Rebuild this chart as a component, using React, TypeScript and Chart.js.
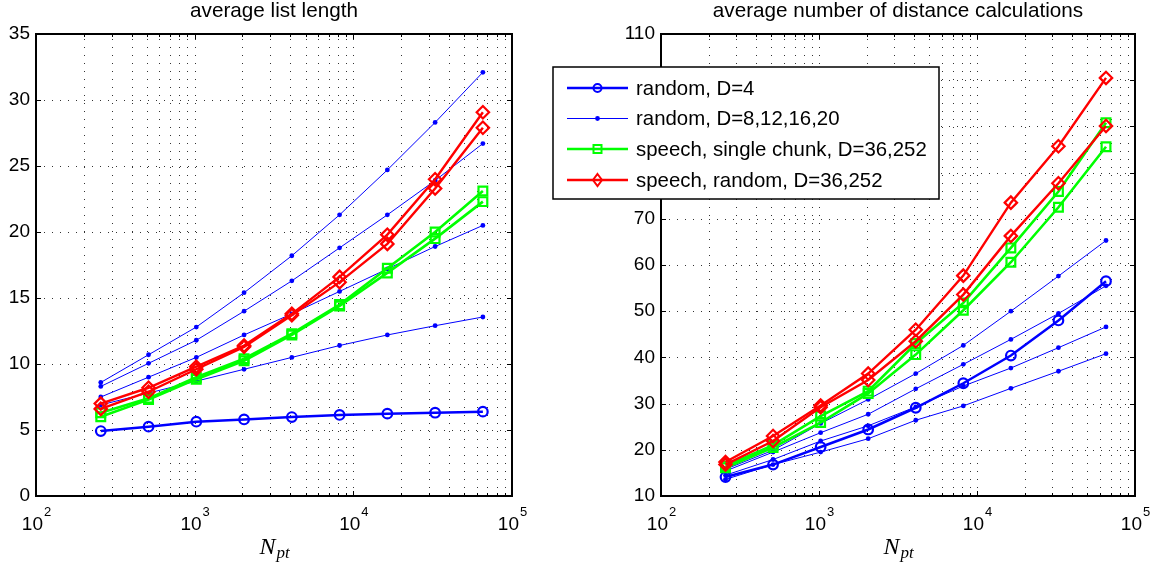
import React, { useEffect, useRef } from 'react';
import { Chart, registerables } from 'chart.js';

Chart.register(...registerables);

// ---------------- data ----------------
const N_PT = [256, 512, 1024, 2048, 4096, 8192, 16384, 32768, 65536];

// left panel: average list length
const LIST_RANDOM_D4 = [4.92, 5.25, 5.63, 5.8, 5.98, 6.14, 6.24, 6.31, 6.39];
const LIST_RANDOM_A = [8.6, 10.7, 12.8, 15.4, 18.2, 21.3, 24.7, 28.3, 32.1];
const LIST_RANDOM_B = [8.3, 10.05, 11.8, 14.0, 16.3, 18.8, 21.3, 23.9, 26.7];
const LIST_RANDOM_C = [7.5, 9.0, 10.5, 12.2, 13.8, 15.5, 17.2, 18.9, 20.5];
const LIST_RANDOM_E = [6.9, 7.8, 8.7, 9.6, 10.5, 11.4, 12.2, 12.9, 13.56];
const LIST_SPEECH_CHUNK_1 = [6.3, 7.4, 9.0, 10.4, 12.3, 14.5, 17.25, 20.0, 23.1];
const LIST_SPEECH_CHUNK_2 = [6.0, 7.3, 8.85, 10.25, 12.2, 14.4, 16.9, 19.5, 22.3];
const LIST_SPEECH_RANDOM_1 = [7.0, 8.2, 9.8, 11.4, 13.8, 16.6, 19.8, 24.0, 29.07];
const LIST_SPEECH_RANDOM_2 = [6.6, 7.9, 9.6, 11.3, 13.7, 16.2, 19.1, 23.3, 27.9];

// right panel: average number of distance calculations
const DIST_RANDOM_D4 = [14.1, 16.8, 20.6, 24.4, 29.1, 34.4, 40.4, 48.0, 56.5];
const DIST_RANDOM_A = [15.8, 19.9, 25.7, 30.9, 36.5, 42.6, 50.0, 57.6, 65.3];
const DIST_RANDOM_B = [15.4, 19.5, 23.7, 27.7, 33.2, 38.5, 43.9, 49.5, 55.5];
const DIST_RANDOM_C = [14.5, 17.9, 21.9, 25.2, 29.3, 33.8, 37.7, 42.1, 46.6];
const DIST_RANDOM_E = [13.6, 16.8, 19.5, 22.4, 26.4, 29.5, 33.3, 37.0, 40.8];
const DIST_SPEECH_CHUNK_1 = [16.5, 21.0, 27.3, 32.7, 43.0, 51.8, 63.7, 75.9, 90.8];
const DIST_SPEECH_CHUNK_2 = [16.1, 20.5, 25.9, 32.2, 40.6, 50.2, 60.6, 72.5, 85.6];
const DIST_SPEECH_RANDOM_1 = [17.35, 23.0, 29.6, 36.5, 46.0, 57.7, 73.5, 85.7, 100.5];
const DIST_SPEECH_RANDOM_2 = [16.8, 21.9, 29.2, 35.1, 43.5, 53.6, 66.3, 77.7, 90.1];

// axes
const X_MIN = 100;
const X_MAX = 100000;
const X_TICK_EXPONENTS = [2, 3, 4, 5];
const LIST_Y_TICKS = [0, 5, 10, 15, 20, 25, 30, 35];
const DIST_Y_TICKS = [10, 20, 30, 40, 50, 60, 70, 80, 90, 100, 110];

const TITLE_LEFT = 'average list length';
const TITLE_RIGHT = 'average number of distance calculations';
const LEGEND_LABELS = [
  'random, D=4',
  'random, D=8,12,16,20',
  'speech, single chunk, D=36,252',
  'speech, random, D=36,252',
];

// ---------------- styles ----------------
const BLUE = '#0000ff';
const GREEN = '#00ff00';
const RED = '#ff0000';
const SANS = "'Liberation Sans', Arial, Helvetica, sans-serif";
const SERIF = "'Liberation Serif', 'Times New Roman', serif";
const W = 1161;
const H = 565;

const pts = (ys: number[]) => N_PT.map((x, i) => ({ x, y: ys[i] }));

const base = { tension: 0, fill: false, pointHoverRadius: 0 };
const thickBlue = (ys: number[]) => ({
  ...base, label: LEGEND_LABELS[0], data: pts(ys), borderColor: BLUE, borderWidth: 2.5,
  pointStyle: 'circle', pointRadius: 4.8, pointBorderWidth: 2.2, pointBorderColor: BLUE,
  pointBackgroundColor: 'rgba(0,0,0,0)', order: 3,
});
const thinBlue = (ys: number[]) => ({
  ...base, label: LEGEND_LABELS[1], data: pts(ys), borderColor: BLUE, borderWidth: 1,
  pointStyle: 'circle', pointRadius: 2.4, pointBorderWidth: 0, pointBorderColor: BLUE,
  pointBackgroundColor: BLUE, order: 4,
});
const green = (ys: number[]) => ({
  ...base, label: LEGEND_LABELS[2], data: pts(ys), borderColor: GREEN, borderWidth: 2.6,
  pointStyle: 'rect', pointRadius: 6.2, pointBorderWidth: 2.2, pointBorderColor: GREEN,
  pointBackgroundColor: 'rgba(0,0,0,0)', order: 2,
});
const red = (ys: number[]) => ({
  ...base, label: LEGEND_LABELS[3], data: pts(ys), borderColor: RED, borderWidth: 2.4,
  pointStyle: 'rectRot', pointRadius: 6.2, pointBorderWidth: 2.2, pointBorderColor: RED,
  pointBackgroundColor: 'rgba(0,0,0,0)', order: 1,
});

// grid positions on a log axis: m * 10^e between X_MIN and X_MAX
function logGridValues(): { v: number; major: boolean }[] {
  const out: { v: number; major: boolean }[] = [];
  for (let e = 2; e < 5; e++) {
    for (let m = 1; m <= 9; m++) {
      const v = m * Math.pow(10, e);
      if (v > X_MIN && v < X_MAX) out.push({ v, major: m === 1 });
    }
  }
  return out;
}

function drawMarker(ctx: CanvasRenderingContext2D, kind: number, x: number, y: number) {
  ctx.save();
  ctx.lineWidth = 2;
  if (kind === 0) {
    ctx.strokeStyle = BLUE;
    ctx.beginPath();
    ctx.arc(x, y, 4, 0, Math.PI * 2);
    ctx.stroke();
  } else if (kind === 1) {
    ctx.fillStyle = BLUE;
    ctx.beginPath();
    ctx.arc(x, y, 2.4, 0, Math.PI * 2);
    ctx.fill();
  } else if (kind === 2) {
    ctx.strokeStyle = GREEN;
    ctx.strokeRect(x - 4, y - 4, 8, 8);
  } else {
    ctx.strokeStyle = RED;
    ctx.beginPath();
    ctx.moveTo(x, y - 6);
    ctx.lineTo(x + 4.5, y);
    ctx.lineTo(x, y + 6);
    ctx.lineTo(x - 4.5, y);
    ctx.closePath();
    ctx.stroke();
  }
  ctx.restore();
}

function makeDecor(title: string, yTicks: number[], withLegend: boolean) {
  return {
    id: 'matlabDecor',
    beforeDatasetsDraw(chart: any) {
      const { ctx, chartArea: a, scales } = chart;
      const xs = scales.x;
      const ys = scales.y;
      ctx.save();
      ctx.strokeStyle = 'rgba(0,0,0,0.8)';
      ctx.lineWidth = 1;
      ctx.setLineDash([1, 7]);
      for (const g of logGridValues()) {
        const px = Math.round(xs.getPixelForValue(g.v)) + 0.5;
        ctx.beginPath();
        ctx.moveTo(px, a.bottom);
        ctx.lineTo(px, a.top);
        ctx.stroke();
      }
      const yMin = yTicks[0];
      const yMax = yTicks[yTicks.length - 1];
      for (const t of yTicks) {
        if (t <= yMin || t >= yMax) continue;
        const py = Math.round(ys.getPixelForValue(t)) + 0.5;
        ctx.beginPath();
        ctx.moveTo(a.left, py);
        ctx.lineTo(a.right, py);
        ctx.stroke();
      }
      ctx.restore();
    },
    afterDraw(chart: any) {
      const { ctx, chartArea: a, scales } = chart;
      const xs = scales.x;
      const ys = scales.y;
      ctx.save();
      // box
      ctx.strokeStyle = '#000';
      ctx.lineWidth = 2;
      ctx.setLineDash([]);
      ctx.strokeRect(a.left, a.top, a.right - a.left, a.bottom - a.top);
      // ticks
      ctx.lineWidth = 1;
      ctx.beginPath();
      for (const g of logGridValues()) {
        const px = Math.round(xs.getPixelForValue(g.v)) + 0.5;
        const len = g.major ? 5 : 3;
        ctx.moveTo(px, a.bottom);
        ctx.lineTo(px, a.bottom - len);
        ctx.moveTo(px, a.top);
        ctx.lineTo(px, a.top + len);
      }
      for (const t of yTicks) {
        const py = Math.round(ys.getPixelForValue(t)) + 0.5;
        ctx.moveTo(a.left, py);
        ctx.lineTo(a.left + 5, py);
        ctx.moveTo(a.right, py);
        ctx.lineTo(a.right - 5, py);
      }
      ctx.stroke();

      // x tick labels 10^e
      ctx.fillStyle = '#000';
      ctx.textBaseline = 'alphabetic';
      ctx.textAlign = 'left';
      for (const e of X_TICK_EXPONENTS) {
        const px = xs.getPixelForValue(Math.pow(10, e));
        ctx.font = `19px ${SANS}`;
        const wBase = ctx.measureText('10').width;
        ctx.font = `13px ${SANS}`;
        const wExp = ctx.measureText(String(e)).width;
        const x0 = px - (wBase + wExp) / 2;
        ctx.font = `19px ${SANS}`;
        ctx.fillText('10', x0, a.bottom + 34);
        ctx.font = `13px ${SANS}`;
        ctx.fillText(String(e), x0 + wBase + 1, a.bottom + 20);
      }

      // x axis title N_pt
      ctx.font = `italic 24px ${SERIF}`;
      const wN = ctx.measureText('N').width;
      ctx.font = `italic 17px ${SERIF}`;
      const wSub = ctx.measureText('pt').width;
      const cx = (a.left + a.right) / 2;
      const nx = cx - (wN + wSub) / 2;
      ctx.font = `italic 24px ${SERIF}`;
      ctx.fillText('N', nx, a.bottom + 58);
      ctx.font = `italic 17px ${SERIF}`;
      ctx.fillText('pt', nx + wN + 1, a.bottom + 62);

      // title
      ctx.font = `20.7px ${SANS}`;
      ctx.textAlign = 'center';
      ctx.fillText(title, cx, a.top - 17);

      // legend
      if (withLegend) {
        const lx = 553;
        const ly = 67;
        const lw = 386;
        const lh = 132;
        ctx.fillStyle = '#fff';
        ctx.fillRect(lx, ly, lw, lh);
        ctx.strokeStyle = '#000';
        ctx.lineWidth = 1.5;
        ctx.strokeRect(lx, ly, lw, lh);
        const rows = [88, 118.5, 149, 180];
        const colors = [BLUE, BLUE, GREEN, RED];
        const widths = [2.5, 1, 2.6, 2.4];
        ctx.textAlign = 'left';
        ctx.textBaseline = 'middle';
        ctx.font = `20.4px ${SANS}`;
        LEGEND_LABELS.forEach((lab, i) => {
          const y = rows[i];
          ctx.strokeStyle = colors[i];
          ctx.lineWidth = widths[i];
          ctx.beginPath();
          ctx.moveTo(567, y);
          ctx.lineTo(628, y);
          ctx.stroke();
          drawMarker(ctx, i, 597.5, y);
          ctx.fillStyle = '#000';
          ctx.fillText(lab, 636, y + 1);
        });
      }
      ctx.restore();
    },
  };
}

function buildConfig(opts: {
  datasets: any[];
  yTicks: number[];
  title: string;
  padLeft: number;
  yWidth: number;
  padRight: number;
  legend: boolean;
}) {
  const { yTicks } = opts;
  return {
    type: 'line' as const,
    data: { datasets: opts.datasets },
    options: {
      animation: false,
      responsive: false,
      events: [],
      layout: { padding: { left: opts.padLeft, right: opts.padRight, top: 34, bottom: 0 } },
      plugins: {
        legend: { display: false },
        tooltip: { enabled: false },
        title: { display: false },
      },
      scales: {
        x: {
          type: 'logarithmic',
          min: X_MIN,
          max: X_MAX,
          grid: { display: false, drawTicks: false },
          border: { display: false },
          ticks: { display: false },
          afterFit: (s: any) => { s.height = 69; },
        },
        y: {
          type: 'linear',
          min: yTicks[0],
          max: yTicks[yTicks.length - 1],
          grid: { display: false, drawTicks: false },
          border: { display: false },
          ticks: {
            stepSize: yTicks[1] - yTicks[0],
            color: '#000',
            padding: 6,
            font: { family: SANS, size: 19 },
          },
          afterFit: (s: any) => { s.width = opts.yWidth; },
        },
      },
    },
    plugins: [makeDecor(opts.title, yTicks, opts.legend)],
  };
}

export default function App() {
  const leftRef = useRef<HTMLCanvasElement>(null);
  const rightRef = useRef<HTMLCanvasElement>(null);

  useEffect(() => {
    const left = new Chart(leftRef.current as HTMLCanvasElement, buildConfig({
      datasets: [
        thickBlue(LIST_RANDOM_D4),
        thinBlue(LIST_RANDOM_A),
        thinBlue(LIST_RANDOM_B),
        thinBlue(LIST_RANDOM_C),
        thinBlue(LIST_RANDOM_E),
        green(LIST_SPEECH_CHUNK_1),
        green(LIST_SPEECH_CHUNK_2),
        red(LIST_SPEECH_RANDOM_1),
        red(LIST_SPEECH_RANDOM_2),
      ],
      yTicks: LIST_Y_TICKS,
      title: TITLE_LEFT,
      padLeft: 0,
      yWidth: 36,
      padRight: W - 512,
      legend: false,
    }) as any);
    const right = new Chart(rightRef.current as HTMLCanvasElement, buildConfig({
      datasets: [
        thickBlue(DIST_RANDOM_D4),
        thinBlue(DIST_RANDOM_A),
        thinBlue(DIST_RANDOM_B),
        thinBlue(DIST_RANDOM_C),
        thinBlue(DIST_RANDOM_E),
        green(DIST_SPEECH_CHUNK_1),
        green(DIST_SPEECH_CHUNK_2),
        red(DIST_SPEECH_RANDOM_1),
        red(DIST_SPEECH_RANDOM_2),
      ],
      yTicks: DIST_Y_TICKS,
      title: TITLE_RIGHT,
      padLeft: 611,
      yWidth: 50,
      padRight: W - 1135,
      legend: true,
    }) as any);
    return () => {
      left.destroy();
      right.destroy();
    };
  }, []);

  return (
    <div style={{ position: 'fixed', left: 0, top: 0, width: W, height: H, background: '#fff' }}>
      <canvas ref={leftRef} width={W} height={H} style={{ position: 'absolute', left: 0, top: 0 }} />
      <canvas ref={rightRef} width={W} height={H} style={{ position: 'absolute', left: 0, top: 0 }} />
    </div>
  );
}
